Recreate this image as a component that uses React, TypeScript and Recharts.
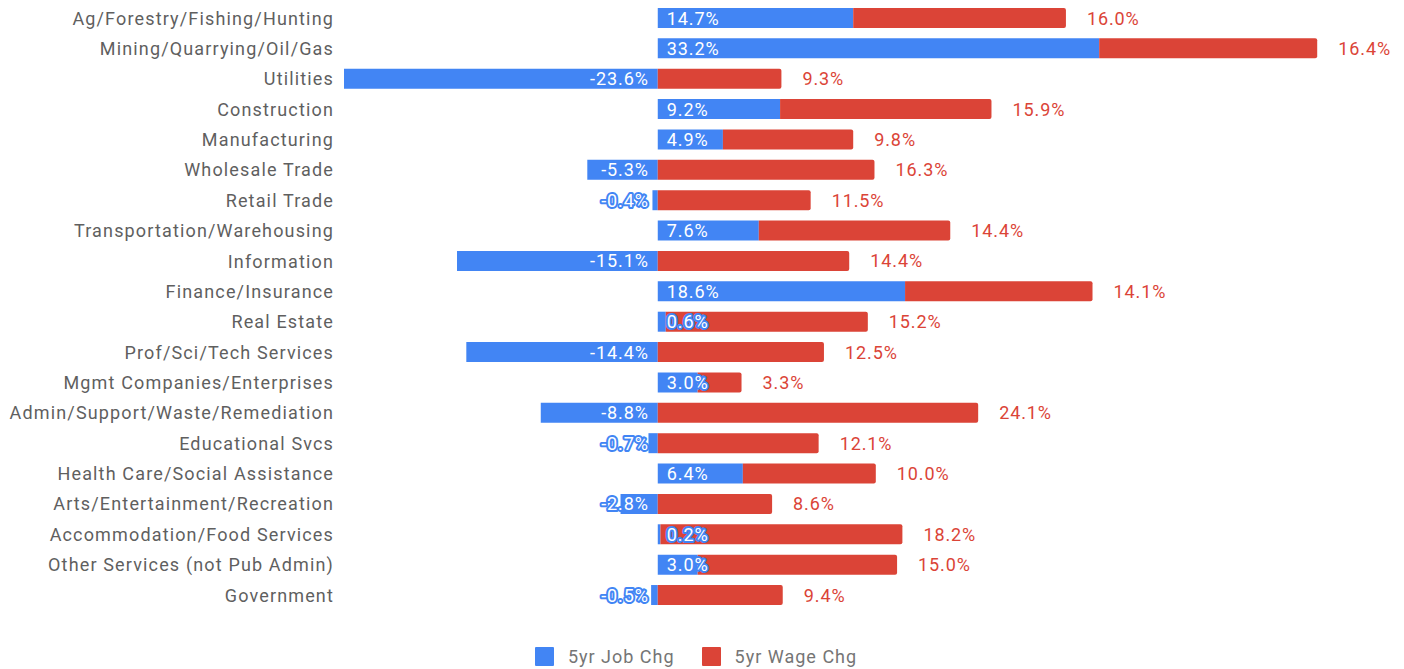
import { BarChart, Bar, XAxis, YAxis, Legend, LabelList } from 'recharts';

const categories = [
  'Ag/Forestry/Fishing/Hunting',
  'Mining/Quarrying/Oil/Gas',
  'Utilities',
  'Construction',
  'Manufacturing',
  'Wholesale Trade',
  'Retail Trade',
  'Transportation/Warehousing',
  'Information',
  'Finance/Insurance',
  'Real Estate',
  'Prof/Sci/Tech Services',
  'Mgmt Companies/Enterprises',
  'Admin/Support/Waste/Remediation',
  'Educational Svcs',
  'Health Care/Social Assistance',
  'Arts/Entertainment/Recreation',
  'Accommodation/Food Services',
  'Other Services (not Pub Admin)',
  'Government',
];

const jobChg = [14.7, 33.2, -23.6, 9.2, 4.9, -5.3, -0.4, 7.6, -15.1, 18.6, 0.6, -14.4, 3.0, -8.8, -0.7, 6.4, -2.8, 0.2, 3.0, -0.5];
const wageChg = [16.0, 16.4, 9.3, 15.9, 9.8, 16.3, 11.5, 14.4, 14.4, 14.1, 15.2, 12.5, 3.3, 24.1, 12.1, 10.0, 8.6, 18.2, 15.0, 9.4];

const BLUE = '#4285f4';
const RED = '#db4437';

const data = categories.map((name, i) => ({ name, job: jobChg[i], wage: wageChg[i] }));

const fmt = (v: number) => `${v.toFixed(1)}%`;

const JobLabel = (props: any) => {
  const { x, y, width, height, value } = props;
  const left = Math.min(x, x + width);
  const right = Math.max(x, x + width);
  const neg = value < 0;
  return (
    <text
      x={neg ? right - 9 : left + 9}
      y={y + height / 2}
      textAnchor={neg ? 'end' : 'start'}
      dominantBaseline="central"
      fontSize={18}
      letterSpacing={0.9}
      fill="#ffffff"
      stroke={BLUE}
      strokeWidth={4}
      strokeLinejoin="round"
      paintOrder="stroke"
    >
      {fmt(value)}
    </text>
  );
};

const WageLabel = (props: any) => {
  const { x, y, width, height, value } = props;
  const right = Math.max(x, x + width);
  return (
    <text
      x={right + 21}
      y={y + height / 2}
      textAnchor="start"
      dominantBaseline="central"
      fontSize={18}
      letterSpacing={0.9}
      fill={RED}
    >
      {fmt(value)}
    </text>
  );
};

const legendItems = [
  { label: '5yr Job Chg', color: BLUE },
  { label: '5yr Wage Chg', color: RED },
];

const LegendContent = () => (
  <div style={{ display: 'flex', justifyContent: 'center', height: 24, alignItems: 'center', paddingLeft: 3 }}>
    {legendItems.map((it, i) => (
      <div key={it.label} style={{ display: 'flex', alignItems: 'center', marginRight: i === 0 ? 27 : 0 }}>
        <span style={{ width: 19, height: 19, background: it.color, display: 'inline-block', marginRight: 14, borderRadius: 1 }} />
        <span style={{ fontSize: 18, letterSpacing: 1, color: '#757575' }}>{it.label}</span>
      </div>
    ))}
  </div>
);

export default function App() {
  return (
    <div style={{ position: 'absolute', left: 0, top: 0, width: 1404, height: 669, background: '#fff', fontFamily: 'Roboto, sans-serif' }}>
      <BarChart
        width={1404}
        height={669}
        data={data}
        layout="vertical"
        stackOffset="sign"
        margin={{ top: 3, right: 15, bottom: 34.6, left: 0 }}
      >
        <XAxis type="number" domain={[-23.6, 55]} hide />
        <YAxis
          type="category"
          dataKey="name"
          width={344}
          axisLine={false}
          tickLine={false}
          tickMargin={4}
          interval={0}
          tick={{ fontSize: 18, fill: '#5f5f5f', letterSpacing: 1.15 }}
        />
        <Legend verticalAlign="bottom" wrapperStyle={{ bottom: 1 }} content={<LegendContent />} />
        <Bar dataKey="job" stackId="a" fill={BLUE} barSize={20} isAnimationActive={false}>
          <LabelList dataKey="job" content={<JobLabel />} />
        </Bar>
        <Bar dataKey="wage" stackId="a" fill={RED} barSize={20} radius={[0, 2, 2, 0]} isAnimationActive={false}>
          <LabelList dataKey="wage" content={<WageLabel />} />
        </Bar>
      </BarChart>
    </div>
  );
}
